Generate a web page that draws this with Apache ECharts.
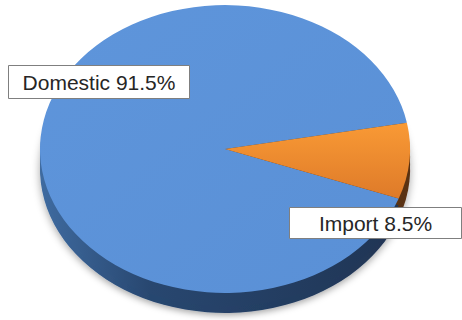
<!DOCTYPE html>
<html><head><meta charset="utf-8">
<script src="https://cdn.jsdelivr.net/npm/echarts@6/dist/echarts.min.js"></script>
<style>
html,body{margin:0;padding:0;background:#fff;overflow:hidden;}
#wrap{position:absolute;left:0;top:0;width:462px;height:320px;}
#pie{position:absolute;left:0;top:0;width:462px;height:412px;transform:scaleY(0.778);transform-origin:0 0;}
#lab{position:absolute;left:0;top:0;width:462px;height:320px;}
</style></head><body>
<div id="wrap"><div id="pie"></div><div id="lab"></div></div>
<script>
const categories = ['Domestic', 'Import'];
const values = [91.5, 8.5];
const labelTexts = categories.map((c, i) => c + ' ' + values[i] + '%');

const S = 0.778;            // vertical squash for the tilted look
const CX = 225, CY = 149, R = 185, DEPTH = 20;

const topColors = [
  new echarts.graphic.LinearGradient(0, 0, 1, 1, [
    {offset: 0, color: '#5e95db'}, {offset: 1, color: '#5a90d6'}]),
  new echarts.graphic.LinearGradient(0, 0, 0, 1, [
    {offset: 0, color: '#f99a35'}, {offset: 1, color: '#de7a29'}])
];
const rimColors = [
  new echarts.graphic.LinearGradient(0, 0, 1, 0, [
    {offset: 0, color: '#3f6ba0'}, {offset: 0.3, color: '#284770'}, {offset: 1, color: '#1f3453'}]),
  '#5a3212'
];

function pieSeries(offsetFinal, colors, z, shadow) {
  return {
    type: 'pie', silent: true, animation: false, z: z,
    center: [CX, (CY + offsetFinal) / S], radius: R,
    startAngle: 10.5, clockwise: false,
    label: {show: false}, labelLine: {show: false},
    emphasis: {disabled: true},
    itemStyle: shadow ? {shadowBlur: 8, shadowColor: 'rgba(0,0,0,0.35)', shadowOffsetY: 3} : {},
    data: categories.map((c, i) => ({name: c, value: values[i], itemStyle: {color: colors[i]}}))
  };
}

const pie = echarts.init(document.getElementById('pie'), null, {renderer: 'svg'});
pie.setOption({
  animation: false,
  series: [
    pieSeries(DEPTH, rimColors, 1, true),
    pieSeries(DEPTH * 0.66, rimColors, 2, false),
    pieSeries(DEPTH * 0.33, rimColors, 3, false),
    pieSeries(0, topColors, 4, false)
  ]
});

const labelBoxes = [
  {x: 8, y: 65, w: 181, h: 33},
  {x: 289, y: 207, w: 172, h: 31}
];
const lab = echarts.init(document.getElementById('lab'), null, {renderer: 'svg'});
lab.setOption({
  animation: false,
  graphic: labelBoxes.map((b, i) => ({
    type: 'group', x: b.x, y: b.y,
    children: [
      {type: 'rect', shape: {x: 0.5, y: 0.5, width: b.w, height: b.h},
       style: {fill: '#fff', stroke: '#7f7f7f', lineWidth: 1}},
      {type: 'text', x: b.w / 2 + 0.5, y: b.h / 2 + 1,
       style: {text: labelTexts[i], fill: '#262626', font: '21px "Liberation Sans", Arial, sans-serif',
               align: 'center', verticalAlign: 'middle'}}
    ]
  }))
});
</script></body></html>
